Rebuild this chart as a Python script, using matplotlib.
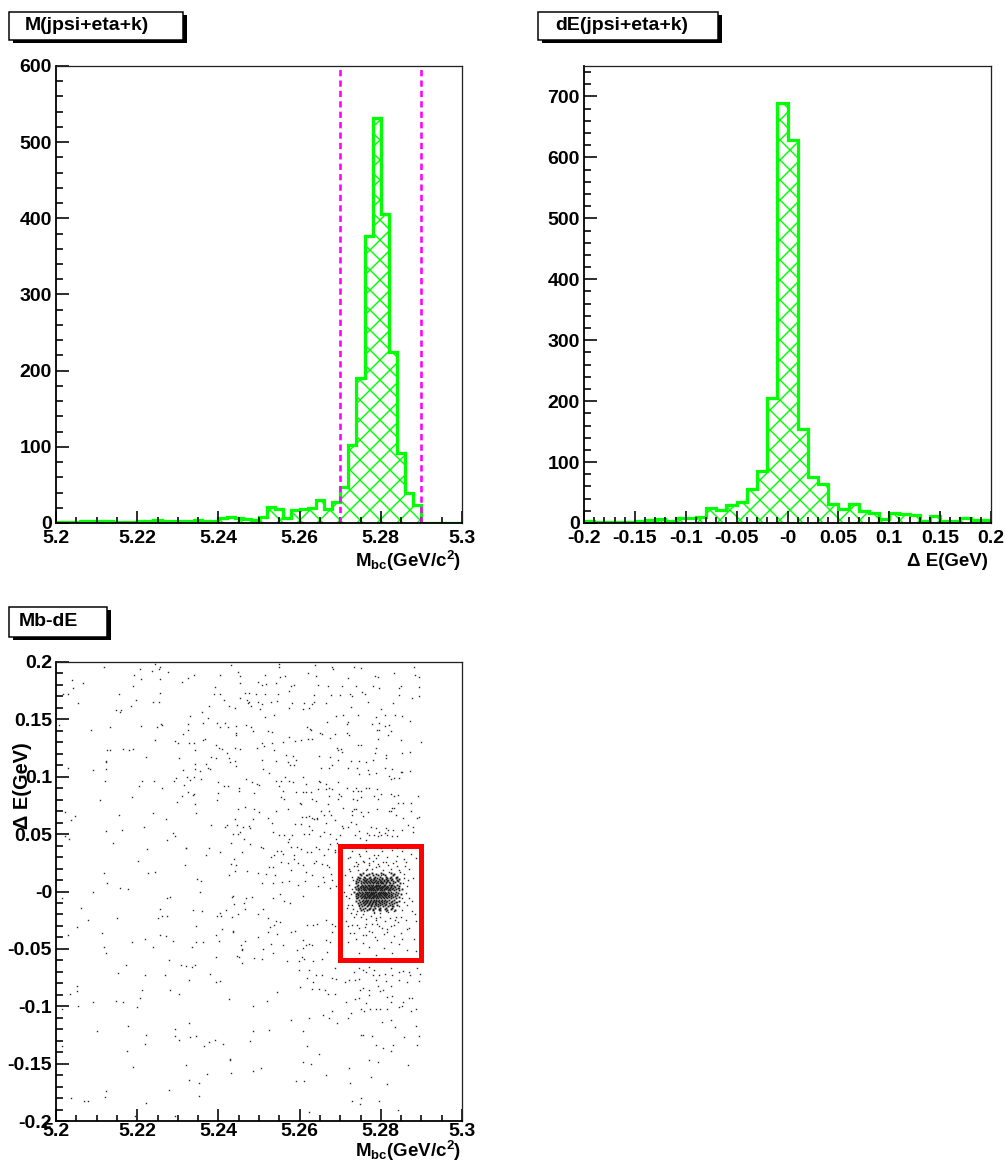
import numpy as np
import matplotlib
matplotlib.use("Agg")
import matplotlib.pyplot as plt
from matplotlib.patches import Rectangle
from matplotlib.ticker import MultipleLocator, FixedLocator, FixedFormatter

DPI = 120


def pt(px):
    # pixel size -> points at the output dpi
    return px * 72 / DPI


plt.rcParams['font.family'] = 'Liberation Sans'
plt.rcParams['font.weight'] = 'bold'
plt.rcParams['mathtext.fontset'] = 'custom'
plt.rcParams['mathtext.rm'] = 'Liberation Sans:bold'
plt.rcParams['mathtext.it'] = 'Liberation Sans:bold'
plt.rcParams['mathtext.bf'] = 'Liberation Sans:bold'
plt.rcParams['hatch.linewidth'] = pt(1.4)

# ---- data ----
mb_lo, mb_hi = 5.2, 5.3
mb_counts = [1, 1, 1, 2, 2, 2, 2, 1, 1, 1,
             2, 3, 4, 3, 3, 3, 3, 4, 3, 3,
             6, 8, 6, 5, 4, 8, 21, 19, 7, 17,
             19, 20, 30, 19, 27, 47, 102, 191, 377, 532,
             406, 225, 92, 40, 23, 0, 0, 0, 0, 0]

de_lo, de_hi = -0.2, 0.2
de_counts = [3, 2, 1, 2, 2, 3, 5, 6, 4, 8,
             9, 10, 24, 21, 30, 34, 55, 85, 205, 690,
             628, 155, 75, 64, 31, 23, 31, 19, 17, 6,
             16, 14, 13, 4, 12, 4, 4, 9, 5, 5]

mb_cuts = [5.27, 5.29]
box_mb = (5.27, 5.29)
box_de = (-0.06, 0.04)

# scatter points: (Mb - 5.2) in 0.1 MeV units, dE in MeV
pts_upper_left = [
    (119, 196), (208, 194), (244, 198), (256, 196), (253, 194), (237, 192), (191, 189), (275, 191),
    (339, 189), (405, 189), (430, 197), (448, 191), (452, 188), (39, 184), (67, 182), (209, 185),
    (256, 185), (310, 183), (325, 186), (452, 182), (498, 183), (190, 179), (42, 177), (391, 178),
    (29, 172), (18, 172), (154, 172), (257, 173), (390, 172), (403, 172), (466, 173), (476, 173),
    (493, 172), (198, 167), (240, 165), (254, 165), (414, 167), (452, 169), (470, 167), (475, 165),
    (473, 164), (480, 162), (498, 165), (53, 164), (184, 162), (377, 162), (425, 162), (441, 160),
    (149, 158), (159, 158), (158, 156), (360, 156), (330, 153), (374, 151), (7, 145), (85, 141),
    (133, 143), (210, 144), (248, 143), (259, 146), (262, 145), (326, 146), (363, 147), (397, 147),
    (404, 143), (417, 147), (424, 143), (444, 144), (468, 145), (480, 143), (484, 140), (313, 137),
    (326, 141), (443, 138), (444, 136), (244, 132), (293, 131), (301, 129), (328, 129), (339, 129),
    (361, 132), (368, 133), (394, 128), (496, 125), (126, 123), (132, 123), (164, 124), (181, 123),
    (189, 124), (222, 117), (342, 123), (401, 125), (409, 124), (421, 121), (441, 125), (454, 124),
    (122, 114), (124, 113), (304, 116), (383, 117), (394, 116), (426, 116), (428, 113), (440, 114),
    (30, 108), (92, 106), (122, 107), (342, 111), (313, 106), (342, 107), (354, 105), (369, 111),
    (374, 108), (380, 107), (443, 109), (322, 100), (339, 100), (358, 98), (296, 99), (291, 96),
    (331, 97), (120, 96), (212, 96), (241, 96), (316, 93), (400, 95), (413, 92), (424, 92),
    (450, 90), (468, 98), (483, 95), (494, 94), (204, 92), (262, 90), (325, 87), (338, 84),
    (341, 85), (310, 83), (400, 86), (451, 88), (488, 86), (186, 82), (108, 80), (299, 78),
    (343, 76), (396, 80), (466, 74), (449, 72), (488, 72), (23, 69), (48, 66), (38, 62),
    (155, 67), (239, 68), (345, 68), (270, 63), (382, 58), (440, 63), (484, 63), (421, 58),
    (447, 58), (416, 56), (461, 56), (476, 57), (477, 55), (163, 54), (216, 56), (124, 53),
    (289, 51), (293, 48), (452, 52), (448, 50), (436, 50), (464, 46), (33, 46), (21, 48),
    (141, 42), (273, 45), (430, 42), (478, 41), (225, 37), (319, 38), (321, 38), (376, 38),
    (369, 32), (403, 34), (457, 34), (203, 27), (318, 23), (432, 24), (438, 28), (443, 23),
    (117, 16), (227, 16), (245, 17), (425, 14), (442, 18), (470, 18), (497, 16), (126, 7),
    (347, 11), (358, 9), (91, 0), (157, 3), (178, 2), (355, 0),
]

pts_lower_left = [
    (14, -6), (273, -6), (281, -5), (433, -5), (437, -4), (469, -6), (482, -5), (464, -10),
    (438, -11), (61, -14), (255, -15), (337, -16), (359, -17), (418, -16), (465, -15), (80, -25),
    (151, -23), (250, -23), (260, -21), (273, -21), (397, -21), (405, -19), (406, -21), (434, -22),
    (448, -20), (497, -20), (52, -31), (30, -38), (114, -36), (345, -30), (410, -33), (436, -34),
    (436, -35), (395, -38), (255, -38), (272, -39), (497, -40), (186, -44), (218, -41), (289, -43),
    (344, -44), (363, -44), (402, -43), (466, -43), (119, -48), (239, -48), (335, -48), (456, -47),
    (458, -50), (457, -51), (124, -54), (446, -56), (451, -57), (395, -57), (488, -58), (279, -60),
    (458, -62), (172, -64), (309, -64), (321, -65), (336, -66), (342, -64), (153, -71), (218, -73),
    (268, -73), (380, -72), (327, -77), (394, -79), (405, -78), (52, -82), (51, -87), (34, -89),
    (213, -86), (282, -86), (304, -89), (207, -93), (427, -94), (91, -96), (149, -95), (165, -96),
    (55, -100), (14, -102), (200, -101), (486, -100), (101, -122), (178, -117), (327, -115), (293, -120),
    (485, -122), (222, -125), (292, -126), (303, -129), (331, -127), (345, -126), (376, -131), (365, -135),
    (392, -129), (412, -133), (477, -130), (14, -135), (218, -133), (176, -139), (321, -151), (428, -146),
    (428, -147), (484, -156), (190, -153), (373, -159), (430, -158), (328, -164), (352, -167), (278, -173),
    (122, -174), (351, -178), (120, -179), (38, -180), (70, -183), (80, -183), (222, -184), (194, -196),
    (294, -196),
]

pts_upper_right = [
    (550, 198), (549, 196), (639, 197), (681, 196), (682, 194), (734, 196), (752, 195), (882, 196),
    (516, 189), (552, 187), (563, 188), (620, 190), (641, 188), (718, 186), (794, 187), (785, 188),
    (833, 190), (885, 189), (893, 187), (508, 180), (518, 181), (543, 182), (578, 179), (585, 180),
    (646, 180), (669, 179), (704, 179), (738, 179), (782, 179), (795, 177), (850, 179), (845, 177),
    (895, 178), (516, 172), (547, 172), (574, 175), (635, 171), (678, 171), (700, 171), (724, 172),
    (729, 170), (753, 174), (760, 172), (846, 171), (878, 169), (895, 170), (508, 163), (530, 165),
    (544, 166), (582, 164), (611, 164), (631, 163), (635, 165), (664, 164), (768, 165), (831, 164),
    (502, 159), (574, 160), (608, 159), (622, 160), (727, 161), (800, 159), (689, 153), (706, 154),
    (745, 154), (788, 152), (810, 154), (835, 154), (852, 153), (515, 152), (538, 154), (668, 148),
    (720, 148), (717, 146), (779, 146), (796, 147), (810, 144), (819, 145), (825, 140), (796, 141),
    (790, 141), (873, 149), (618, 143), (626, 142), (629, 141), (650, 138), (654, 137), (521, 140),
    (532, 139), (575, 135), (589, 131), (603, 132), (620, 133), (631, 133), (675, 134), (688, 137),
    (716, 138), (721, 136), (745, 128), (750, 128), (794, 133), (817, 136), (850, 132), (899, 130),
    (507, 129), (558, 130), (533, 129), (512, 127), (691, 125), (695, 123), (701, 124), (704, 122),
    (787, 125), (786, 121), (812, 119), (812, 116), (851, 121), (871, 122), (538, 123), (566, 119),
    (583, 118), (590, 115), (647, 118), (674, 117), (695, 115), (727, 114), (746, 114), (764, 113),
    (781, 115), (507, 115), (542, 114), (572, 113), (577, 110), (585, 110), (653, 108), (672, 108),
    (679, 110), (718, 108), (742, 108), (769, 106), (810, 108), (827, 107), (851, 104), (871, 105),
    (510, 107), (524, 103), (543, 96), (553, 96), (564, 100), (574, 96), (583, 95), (609, 100),
    (616, 94), (647, 96), (650, 95), (666, 94), (695, 95), (747, 102), (771, 102), (789, 103),
    (820, 101), (824, 98), (832, 99), (845, 99), (849, 104), (500, 93), (549, 92), (558, 88),
    (590, 87), (608, 87), (615, 87), (627, 87), (646, 89), (664, 89), (672, 90), (680, 89),
    (697, 85), (702, 83), (716, 90), (732, 88), (739, 90), (745, 88), (750, 88), (763, 90),
    (772, 90), (791, 89), (801, 85), (824, 85), (833, 83), (843, 84), (891, 83), (553, 82),
    (562, 81), (600, 77), (630, 81), (641, 79), (669, 76), (672, 83), (695, 81), (732, 81),
    (741, 80), (750, 82), (783, 83), (794, 81), (827, 73), (832, 73), (843, 77), (855, 77),
    (874, 77), (501, 69), (521, 64), (542, 70), (572, 72), (603, 76), (623, 66), (635, 63),
    (644, 64), (652, 70), (661, 67), (673, 70), (677, 67), (708, 73), (728, 70), (728, 67),
    (735, 72), (740, 72), (751, 69), (755, 66), (769, 69), (791, 72), (819, 70), (826, 70),
    (837, 67), (854, 64), (874, 70), (889, 64), (895, 65), (533, 60), (589, 59), (604, 59),
    (606, 65), (615, 65), (622, 57), (631, 64), (644, 63), (664, 60), (688, 62), (704, 57),
    (706, 55), (718, 56), (726, 61), (740, 59), (746, 53), (767, 51), (775, 56), (787, 55),
    (796, 52), (810, 51), (813, 55), (817, 54), (829, 54), (851, 54), (868, 58), (880, 56),
    (534, 52), (550, 49), (562, 49), (575, 46), (582, 49), (610, 50), (623, 50), (631, 54),
    (650, 48), (659, 52), (676, 50), (690, 46), (700, 49), (736, 49), (749, 47), (763, 45),
    (770, 49), (783, 49), (793, 48), (801, 49), (816, 49), (828, 48), (841, 48), (879, 52),
    (504, 39), (511, 38), (529, 30), (538, 32), (544, 35), (553, 35), (560, 33), (571, 43),
    (580, 39), (585, 32), (594, 39), (604, 37), (619, 34), (628, 34), (640, 39), (649, 37),
    (661, 32), (671, 37), (675, 41), (686, 36), (688, 34), (691, 42), (525, 21), (534, 21),
    (517, 15), (539, 14), (554, 26), (571, 25), (587, 28), (596, 25), (609, 23), (636, 25),
    (640, 27), (654, 24), (667, 23), (672, 21), (579, 19), (615, 17), (631, 14), (657, 13),
    (677, 15), (681, 10), (508, 7), (535, 7), (557, 8), (575, 9), (595, 6), (614, 9),
    (645, 5), (661, 8), (676, 3), (689, 5),
]

pts_lower_right = [
    (551, -2), (534, -6), (562, -8), (577, -10), (609, -4), (511, -15), (521, -23), (542, -26),
    (551, -27), (527, -31), (536, -29), (523, -35), (545, -37), (580, -35), (589, -34), (617, -29),
    (634, -29), (644, -28), (666, -25), (681, -28), (608, -42), (623, -46), (631, -47), (664, -42),
    (674, -44), (680, -35), (688, -30), (509, -50), (530, -46), (534, -54), (560, -47), (594, -51),
    (608, -49), (616, -47), (605, -57), (612, -59), (599, -61), (634, -61), (568, -61), (507, -59),
    (656, -59), (667, -53), (687, -67), (598, -68), (622, -68), (654, -73), (641, -73), (681, -75),
    (689, -76), (618, -75), (633, -79), (602, -83), (630, -85), (649, -85), (663, -86), (670, -89),
    (687, -89), (544, -88), (519, -95), (681, -104), (658, -108), (673, -110), (693, -115), (622, -110),
    (580, -112), (525, -121), (609, -122), (617, -135), (647, -142), (628, -150), (608, -149), (506, -154),
    (664, -160), (591, -165), (612, -165), (622, -192),
    (712, -79), (722, -77), (737, -77), (746, -67), (755, -68), (763, -70), (770, -66), (783, -68),
    (781, -73), (787, -77), (795, -73), (810, -72), (826, -67), (845, -70), (855, -69), (869, -70),
    (889, -67), (897, -72), (733, -70), (746, -76), (749, -86), (757, -84), (771, -86), (792, -82),
    (797, -87), (806, -86), (814, -78), (824, -82), (828, -73), (846, -77), (865, -79), (871, -73),
    (894, -78), (736, -94), (746, -93), (771, -90), (816, -92), (828, -91), (855, -96), (869, -93),
    (878, -93), (715, -96), (718, -110), (727, -106), (750, -102), (759, -104), (764, -97), (773, -102),
    (787, -102), (798, -102), (815, -102), (824, -96), (845, -101), (851, -100), (874, -104), (886, -102),
    (750, -125), (755, -125), (779, -126), (802, -114), (825, -112), (836, -118), (857, -127), (886, -117),
    (894, -126), (722, -154), (771, -147), (776, -162), (794, -149), (787, -134), (805, -136), (815, -168),
    (826, -139), (829, -134), (867, -151), (888, -134), (725, -167), (728, -183), (748, -185), (752, -180),
    (796, -183), (842, -190),
]

pts_signal_box = [
    (715, -4), (726, -2), (738, -6), (720, -12), (732, -15), (746, -13), (759, -17), (771, -15),
    (783, -19), (796, -16), (812, -17), (827, -13), (841, -9), (853, -6), (865, -12), (878, -17),
    (886, -26), (715, -26), (730, -29), (746, -32), (763, -28), (779, -35), (796, -30), (816, -33),
    (833, -29), (849, -36), (869, -32), (718, -44), (738, -41), (755, -45), (771, -48), (791, -42),
    (808, -49), (824, -44), (845, -46), (865, -51), (886, -52), (746, -54), (787, -55), (828, -54),
    (763, -38), (738, -20), (787, -23), (837, -22), (861, -25), (723, -36), (882, -41),
    (730, 35), (746, 33), (763, 35), (783, 32), (804, 35), (828, 36), (853, 35), (874, 33),
    (718, 29), (738, 26), (755, 27), (771, 25), (787, 29), (812, 26), (837, 27), (861, 26),
    (886, 29), (722, 20), (742, 22), (763, 19), (779, 20), (796, 22), (820, 17), (845, 19),
    (869, 20), (730, 13), (746, 12), (763, 14), (783, 12), (800, 14), (816, 10), (837, 13),
    (857, 12), (722, 6), (738, 7), (755, 4), (771, 6), (787, 5), (804, 7), (824, 6),
    (845, 3), (865, 5),
    (725, 18), (731, 10), (728, 2), (722, -6), (730, -12), (727, -19), (735, 22), (734, -22),
    (858, 15), (855, 7), (862, -1), (857, -9), (852, -16), (866, 10), (869, -6), (860, 22),
    (849, -22), (745, 24), (758, 26), (770, 23), (781, 27), (793, 24), (806, 26), (817, 23),
    (829, 25), (841, 22), (752, -22), (764, -24), (776, -21), (787, -25), (799, -22), (811, -26),
    (823, -23), (835, -25), (741, -17), (757, -20), (783, -18), (798, -19), (818, -18), (832, -17),
    (846, -13), (744, 19), (766, 20), (788, 21), (805, 19), (824, 20), (848, 17), (718, -30),
    (741, -29), (762, -31), (779, -28), (803, -32), (826, -30), (843, -27), (864, -33), (724, 30),
    (748, 31), (771, 29), (794, 32), (815, 30), (839, 31), (858, 28), (733, -36), (755, -38),
    (785, -40), (808, -37), (832, -39), (852, -41), (880, 12), (876, -8), (884, -20), (712, 14),
    (716, -14), (709, 0), (790, -28), (770, -34), (815, -35), (760, 38), (800, 38), (840, 38),
]

# dense core of the signal box, row by row: dE (MeV) -> Mb offsets (0.1 MeV)
core_rows = [
    (16, [757, 779, 801, 824]),
    (15, [748, 770, 788, 806, 833]),
    (14, [752, 766, 781, 793, 810, 829]),
    (13, [745, 759, 774, 786, 799, 812, 826, 841]),
    (12, [749, 762, 770, 783, 791, 804, 816, 822, 837]),
    (11, [741, 755, 765, 776, 784, 795, 802, 813, 828, 846]),
    (10, [747, 758, 764, 773, 781, 788, 798, 807, 818, 825, 839]),
    (9, [739, 752, 761, 769, 777, 785, 792, 800, 809, 815, 831, 843]),
    (8, [744, 756, 763, 771, 779, 783, 790, 797, 804, 812, 820, 834]),
    (7, [738, 750, 759, 766, 774, 781, 787, 794, 801, 806, 814, 823, 829, 848]),
    (6, [745, 754, 762, 768, 776, 782, 789, 793, 799, 808, 811, 819, 827, 840]),
    (5, [741, 751, 757, 764, 771, 778, 785, 791, 796, 803, 809, 816, 824, 833, 845]),
    (4, [737, 748, 755, 761, 767, 773, 779, 784, 788, 795, 800, 806, 813, 818, 826, 836]),
    (3, [743, 752, 759, 765, 770, 776, 781, 787, 792, 797, 804, 810, 815, 822, 830, 842]),
    (2, [739, 747, 756, 762, 768, 774, 778, 783, 790, 794, 801, 807, 812, 820, 828, 838, 851]),
    (1, [744, 751, 758, 764, 771, 777, 782, 786, 791, 798, 803, 809, 817, 823, 833, 846]),
    (0, [735, 746, 753, 760, 766, 772, 776, 781, 785, 789, 796, 800, 805, 811, 818, 826, 837]),
    (-1, [741, 749, 757, 763, 769, 775, 779, 784, 792, 797, 802, 808, 814, 821, 830, 843]),
    (-2, [738, 745, 754, 761, 767, 773, 778, 782, 787, 793, 799, 806, 810, 816, 824, 834, 849]),
    (-3, [743, 751, 758, 765, 770, 776, 783, 788, 795, 801, 807, 813, 819, 828, 840]),
    (-4, [740, 748, 756, 762, 768, 774, 780, 785, 791, 796, 803, 811, 817, 825, 836]),
    (-5, [745, 753, 760, 766, 772, 779, 784, 790, 798, 805, 812, 821, 831, 844]),
    (-6, [742, 750, 758, 764, 771, 777, 782, 789, 794, 801, 809, 815, 826, 838]),
    (-7, [747, 756, 763, 769, 776, 783, 788, 796, 803, 811, 820, 832]),
    (-8, [740, 753, 761, 767, 774, 780, 787, 793, 800, 808, 816, 828, 845]),
    (-9, [749, 759, 766, 773, 781, 786, 795, 804, 813, 824, 837]),
    (-10, [744, 756, 764, 771, 779, 789, 798, 807, 819, 833]),
    (-11, [751, 762, 770, 778, 785, 794, 802, 814, 827]),
    (-12, [746, 758, 768, 777, 788, 797, 810, 822, 839]),
    (-13, [754, 765, 775, 784, 793, 805, 818, 831]),
    (-14, [749, 762, 773, 786, 799, 812, 828]),
    (-15, [757, 770, 782, 796, 810, 825]),
    (-16, [752, 767, 781, 797, 815, 836]),
]

GREEN = '#00ff00'
W, H = 1005, 1169


def fx(px):
    return px / W


def fy(py):
    return 1 - py / H


fig = plt.figure(figsize=(W / DPI, H / DPI), dpi=DPI)

TICK_FS = pt(19.5)
TITLE_FS = pt(19.5)
AXTITLE_FS = pt(18.8)


def style_axes(ax, xpad=7):
    for side in ('left', 'bottom'):
        ax.spines[side].set_linewidth(pt(1.8))
    for side in ('top', 'right'):
        ax.spines[side].set_linewidth(pt(1.3))
        ax.spines[side].set_color('#222222')
    ax.tick_params(which='both', direction='in', top=False, right=False,
                   labelsize=TICK_FS, width=pt(1.6))
    ax.tick_params(which='major', length=pt(12.5))
    ax.tick_params(which='minor', length=pt(6.5))
    ax.tick_params(axis='y', pad=pt(4))
    ax.tick_params(axis='x', pad=pt(xpad))


def title_box(x0, y0, x1, y1, text, tx):
    # shadow then white box
    fig.patches.append(Rectangle((fx(x0 + 4), fy(y1 + 3)), fx(x1 - x0), (y1 - y0) / H,
                                 transform=fig.transFigure, facecolor='black',
                                 edgecolor='black', lw=0, zorder=5))
    fig.patches.append(Rectangle((fx(x0), fy(y1)), fx(x1 - x0), (y1 - y0) / H,
                                 transform=fig.transFigure, facecolor='white',
                                 edgecolor='black', lw=pt(1.5), zorder=6))
    fig.text(fx(tx), fy((y0 + y1) / 2), text, ha='left', va='center',
             fontsize=TITLE_FS, fontweight='bold', zorder=7)


def draw_hist(ax, counts, lo, hi):
    edges = np.linspace(lo, hi, len(counts) + 1)
    ax.stairs(counts, edges, fill=True, facecolor='none', edgecolor=GREEN,
              hatch='xx', lw=0)
    ax.stairs(counts, edges, color=GREEN, lw=pt(3.2), baseline=None)


mb_ticks = [5.2, 5.22, 5.24, 5.26, 5.28, 5.3]
mb_labels = ['5.2', '5.22', '5.24', '5.26', '5.28', '5.3']
de_ticks = [-0.2, -0.15, -0.1, -0.05, 0.0, 0.05, 0.1, 0.15, 0.2]
de_labels = ['-0.2', '-0.15', '-0.1', '-0.05', '-0', '0.05', '0.1', '0.15', '0.2']
mbc_title = r'M$_{\mathrm{bc}}$(GeV/c$^{\mathrm{2}}$)'

# ---- M(jpsi+eta+k) ----
ax1 = fig.add_axes([fx(56), fy(523), fx(406), 457 / H])
draw_hist(ax1, mb_counts, mb_lo, mb_hi)
for c in mb_cuts:
    ax1.plot([c, c], [0, 600], color='#ff00ff', lw=pt(2.6), ls=(0, (2.4, 1.6)))
ax1.set_xlim(mb_lo, mb_hi)
ax1.set_ylim(0, 600)
ax1.set_xticks(mb_ticks)
ax1.set_xticklabels(mb_labels)
ax1.xaxis.set_minor_locator(MultipleLocator(0.005))
ax1.yaxis.set_major_locator(MultipleLocator(100))
ax1.yaxis.set_minor_locator(MultipleLocator(20))
style_axes(ax1)
fig.text(fx(461), fy(561), mbc_title, ha='right', va='center',
         fontsize=AXTITLE_FS, fontweight='bold')
title_box(9, 12, 183, 40, 'M(jpsi+eta+k)', 25)

# ---- dE(jpsi+eta+k) ----
ax2 = fig.add_axes([fx(584), fy(523), fx(407), 457 / H])
draw_hist(ax2, de_counts, de_lo, de_hi)
ax2.set_xlim(de_lo, de_hi)
ax2.set_ylim(0, 750)
ax2.xaxis.set_major_locator(FixedLocator(de_ticks))
ax2.xaxis.set_major_formatter(FixedFormatter(de_labels))
ax2.xaxis.set_minor_locator(MultipleLocator(0.01))
ax2.yaxis.set_major_locator(MultipleLocator(100))
ax2.yaxis.set_minor_locator(MultipleLocator(20))
style_axes(ax2)
fig.text(fx(988), fy(561), '\u0394 E(GeV)', ha='right', va='center',
         fontsize=AXTITLE_FS, fontweight='bold')
title_box(538, 12, 718, 40, 'dE(jpsi+eta+k)', 555)

# ---- Mb-dE ----
ax3 = fig.add_axes([fx(56), fy(1121), fx(406), 459 / H])
all_pts = pts_upper_left + pts_lower_left + pts_upper_right + pts_lower_right + pts_signal_box
m_units = np.array([p[0] for p in all_pts], dtype=float)
d_units = np.array([p[1] for p in all_pts], dtype=float)
ax3.plot(5.2 + m_units * 1e-4, d_units * 1e-3, ls='none', marker='s', ms=pt(1.4),
         mew=0, color='#2a2a2a')
core_pts = [(m, d) for d, ms_list in core_rows for m in ms_list]
core_m = np.array([p[0] for p in core_pts], dtype=float)
core_d = np.array([p[1] for p in core_pts], dtype=float)
ax3.plot(5.2 + core_m * 1e-4, core_d * 1e-3, ls='none', marker='s', ms=pt(1.9),
         mew=0, color='#1a1a1a')
ax3.add_patch(Rectangle((box_mb[0], box_de[0]), box_mb[1] - box_mb[0],
                        box_de[1] - box_de[0], fill=False, edgecolor='#ff0000', lw=pt(5)))
ax3.set_xlim(mb_lo, mb_hi)
ax3.set_ylim(de_lo, de_hi)
ax3.set_xticks(mb_ticks)
ax3.set_xticklabels(mb_labels)
ax3.xaxis.set_minor_locator(MultipleLocator(0.005))
ax3.yaxis.set_major_locator(FixedLocator(de_ticks))
ax3.yaxis.set_major_formatter(FixedFormatter(de_labels))
ax3.yaxis.set_minor_locator(MultipleLocator(0.01))
style_axes(ax3, xpad=2)
fig.text(fx(461), fy(1151), mbc_title, ha='right', va='center',
         fontsize=AXTITLE_FS, fontweight='bold')
fig.text(fx(22), fy(742), '\u0394 E(GeV)', rotation=90, ha='center', va='top',
         fontsize=pt(20), fontweight='bold')
title_box(9, 607, 107, 637, 'Mb-dE', 19)

fig.savefig('out.png', dpi=DPI)
